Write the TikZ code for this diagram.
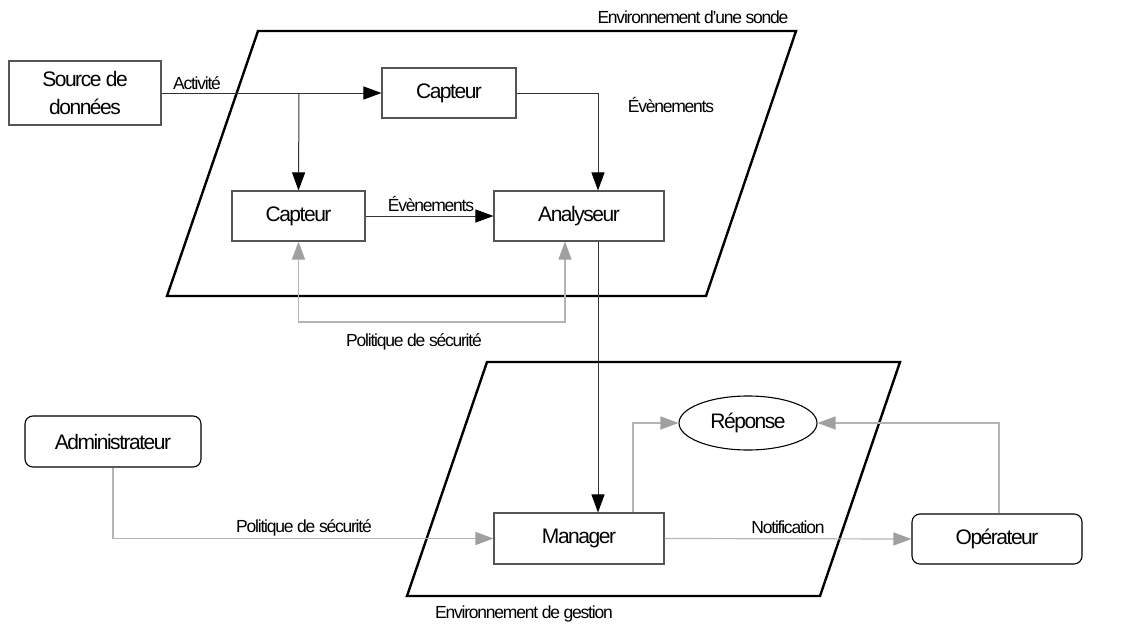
\documentclass[tikz,border=0pt]{standalone}
\usepackage{fontspec}
\setmainfont{Liberation Sans}[LetterSpace=-7]
\usetikzlibrary{arrows.meta,shapes.geometric}
\definecolor{boxline}{HTML}{555555}
\definecolor{conline}{HTML}{333333}
\definecolor{lgray}{HTML}{B4B4B4}
\definecolor{tipgray}{HTML}{A0A0A0}
\tikzset{
  box/.style={draw=boxline, line width=1.1pt, inner sep=0pt, font=\fontsize{21}{28}\selectfont, align=center},
  rbox/.style={box, rounded corners=8pt},
  lbl/.style={inner sep=0pt, anchor=base, font=\fontsize{17.5}{20}\selectfont},
  env/.style={draw=black, line width=2.4pt, line join=miter},
  blk/.style={draw=conline, line width=1pt, -{Triangle[length=18pt,width=13pt,color=black]}},
  gry/.style={draw=lgray, line width=1.2pt, -{Triangle[length=18pt,width=13pt,color=tipgray]}},
}
\begin{document}
\begin{tikzpicture}[x=1pt,y=-1pt]
\useasboundingbox (0,0) rectangle (1122,626);
% environments
\draw[env] (258,31) -- (796,31) -- (706,296) -- (167,296) -- cycle;
\draw[env] (487,362) -- (900,362) -- (820,596) -- (407,596) -- cycle;
\node[lbl] (envs) at (693,24) {Environnement d'une sonde};
\node[lbl] (envg) at (524,618) {Environnement de gestion};
% nodes
\node[box, minimum width=152pt, minimum height=64pt] (src) at (85,93) {Source de\\données};
\node[box, minimum width=134pt, minimum height=50pt] (cap1) at (449,93) {Capteur};
\node[box, minimum width=133pt, minimum height=50pt] (cap2) at (298.5,216) {Capteur};
\node[box, minimum width=170pt, minimum height=50pt] (ana) at (579,216) {Analyseur};
\node[box, minimum width=170pt, minimum height=51pt] (man) at (579,538.5) {Manager};
\node[box, ellipse, draw=black, minimum width=138pt, minimum height=54pt] (rep) at (748,423) {Réponse};
\node[rbox, draw=black, minimum width=170pt, minimum height=50pt] (op) at (997,539) {Opérateur};
\node[rbox, draw=black, minimum width=176pt, minimum height=51pt] (adm) at (113,441.5) {Administrateur};
% coordinates
\coordinate (br) at (299,93);
\coordinate (c1r) at (598,93);
\coordinate (loop) at (414,322);
% black connectors
\draw[blk] (src.east) -- (cap1.west);
\draw[blk] (br) -- (cap2.north);
\draw[blk] (cap1.east) -- (c1r) -- (c1r |- ana.north);
\draw[blk] (cap2.east) -- (ana.west);
\draw[blk] (c1r |- ana.south) -- (c1r |- man.north);
\node[lbl] (lact) at (197,89) {Activité};
\node[lbl] (lev1) at (431,211) {Évènements};
\node[lbl] (lev2) at (671,113) {Évènements};
% gray connectors
\draw[gry] (loop) -| (cap2.south);
\draw[gry] (loop) -| ([xshift=-14pt]ana.south);
\node[lbl] (lpol1) at (414,346) {Politique de sécurité};
\draw[gry] (adm.south) |- (man.west);
\node[lbl] (lpol2) at (304,532) {Politique de sécurité};
\draw[gry] (man.east) -- (op.west);
\node[lbl] (lnot) at (788,533) {Notification};
\draw[gry] ([xshift=54pt]man.north) |- (rep.west);
\draw[gry] ([xshift=2pt]op.north) |- (rep.east);
\end{tikzpicture}
\end{document}
